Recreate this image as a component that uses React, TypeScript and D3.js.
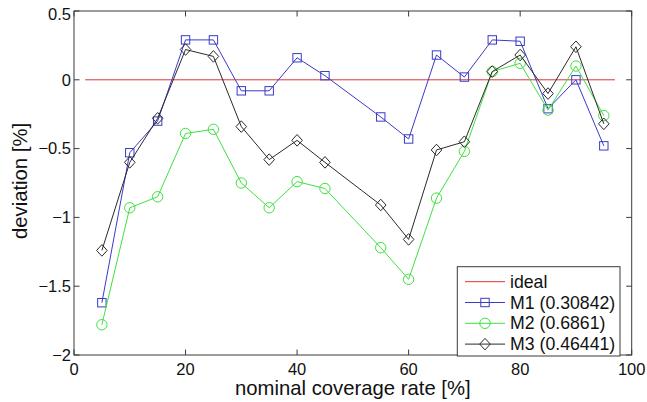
import React from "react";
import * as d3 from "d3";

// nominal coverage rate [%] (no sample at 50)
const coverage = [5, 10, 15, 20, 25, 30, 35, 40, 45, 55, 60, 65, 70, 75, 80, 85, 90, 95];

const m1 = [-1.62, -0.53, -0.3, 0.29, 0.29, -0.08, -0.08, 0.16, 0.03, -0.27, -0.43, 0.18, 0.02, 0.29, 0.28, -0.21, 0.0, -0.48];
const m2 = [-1.78, -0.93, -0.85, -0.39, -0.36, -0.75, -0.93, -0.74, -0.79, -1.22, -1.45, -0.86, -0.52, 0.06, 0.12, -0.22, 0.1, -0.26];
const m3 = [-1.24, -0.6, -0.28, 0.22, 0.17, -0.34, -0.58, -0.44, -0.6, -0.91, -1.16, -0.51, -0.45, 0.06, 0.18, -0.1, 0.24, -0.32];

const idealRange = [2, 97];
const xTicks = [0, 20, 40, 60, 80, 100];
const yTicks = [-2, -1.5, -1, -0.5, 0, 0.5];

const seriesNames = ["M1 (0.30842)", "M2 (0.6861)", "M3 (0.46441)"];
const seriesColors = ["#3a3ac8", "#3fe03f", "#2a2a2a"];
const seriesMarkers = ["square", "circle", "diamond"];

const W = 647;
const H = 402;
const font = "'Liberation Sans', Arial, Helvetica, sans-serif";

const Marker = ({ type, x, y, color }) => {
  if (type === "square") {
    return <rect x={x - 4.2} y={y - 4.2} width={8.4} height={8.4} fill="none" stroke={color} strokeWidth={1} />;
  }
  if (type === "circle") {
    return <circle cx={x} cy={y} r={5.2} fill="none" stroke={color} strokeWidth={1} />;
  }
  return (
    <path
      d={`M${x},${y - 5.8}L${x + 5.3},${y}L${x},${y + 5.8}L${x - 5.3},${y}Z`}
      fill="none"
      stroke={color}
      strokeWidth={1}
    />
  );
};

const App = () => {
  const left = 74;
  const right = 631.7;
  const top = 11;
  const bottom = 355;

  const x = d3.scaleLinear().domain([0, 100]).range([left, right]);
  const y = d3.scaleLinear().domain([-2, 0.5]).range([bottom, top]);

  const series = [m1, m2, m3];
  const line = d3
    .line<number>()
    .x((d, i) => x(coverage[i]))
    .y((d) => y(d));

  const tickLen = 5.5;
  const axisColor = "#3a3a3a";

  // legend box
  const lg = { x0: 457.3, x1: 620, y0: 266.7, y1: 356 };
  const rowY = (i) => 281.7 + i * 20.8;

  return (
    <svg
      width={W}
      height={H}
      style={{ position: "absolute", left: 0, top: 0, background: "#fff" }}
      fontFamily={font}
    >
      <rect x={0} y={0} width={W} height={H} fill="#fff" />

      {/* ideal */}
      <line
        x1={x(idealRange[0])}
        x2={x(idealRange[1])}
        y1={y(0)}
        y2={y(0)}
        stroke="#e03434"
        strokeWidth={1}
      />

      {series.map((s, si) => (
        <g key={si}>
          <path d={line(s)} fill="none" stroke={seriesColors[si]} strokeWidth={1} />
          {s.map((v, i) => (
            <Marker key={i} type={seriesMarkers[si]} x={x(coverage[i])} y={y(v)} color={seriesColors[si]} />
          ))}
        </g>
      ))}

      {/* axes box */}
      <rect x={left} y={top} width={right - left} height={bottom - top} fill="none" stroke={axisColor} strokeWidth={1} />

      {xTicks.map((t) => (
        <g key={t}>
          <line x1={x(t)} x2={x(t)} y1={bottom} y2={bottom - tickLen} stroke={axisColor} />
          <line x1={x(t)} x2={x(t)} y1={top} y2={top + tickLen} stroke={axisColor} />
          <text x={x(t)} y={375} textAnchor="middle" fontSize={16.5} fill="#111">
            {t}
          </text>
        </g>
      ))}

      {yTicks.map((t) => (
        <g key={t}>
          <line x1={left} x2={left + tickLen} y1={y(t)} y2={y(t)} stroke={axisColor} />
          <line x1={right} x2={right - tickLen} y1={y(t)} y2={y(t)} stroke={axisColor} />
          <text x={71} y={y(t) + (t === 0.5 ? 8.5 : 5.8)} textAnchor="end" fontSize={16.5} fill="#111">
            {d3.format("")(t).replace("-", "\u2212")}
          </text>
        </g>
      ))}

      <text x={(left + right) / 2} y={395} textAnchor="middle" fontSize={20.3} fill="#111">
        nominal coverage rate [%]
      </text>
      <text
        transform={`translate(27,${(top + bottom) / 2 - 2}) rotate(-90)`}
        textAnchor="middle"
        fontSize={20.3}
        fill="#111"
      >
        deviation [%]
      </text>

      {/* legend */}
      <rect x={lg.x0} y={lg.y0} width={lg.x1 - lg.x0} height={lg.y1 - lg.y0} fill="#fff" stroke={axisColor} strokeWidth={1} />
      <line x1={465} x2={505} y1={rowY(0)} y2={rowY(0)} stroke="#e03434" />
      <text x={510} y={rowY(0) + 6} fontSize={17.7} fill="#111">
        ideal
      </text>
      {seriesNames.map((n, i) => (
        <g key={n}>
          <line x1={465} x2={505} y1={rowY(i + 1)} y2={rowY(i + 1)} stroke={seriesColors[i]} />
          <Marker type={seriesMarkers[i]} x={485} y={rowY(i + 1)} color={seriesColors[i]} />
          <text x={510} y={rowY(i + 1) + 6} fontSize={17.7} fill="#111">
            {n}
          </text>
        </g>
      ))}
    </svg>
  );
};

export default App;
